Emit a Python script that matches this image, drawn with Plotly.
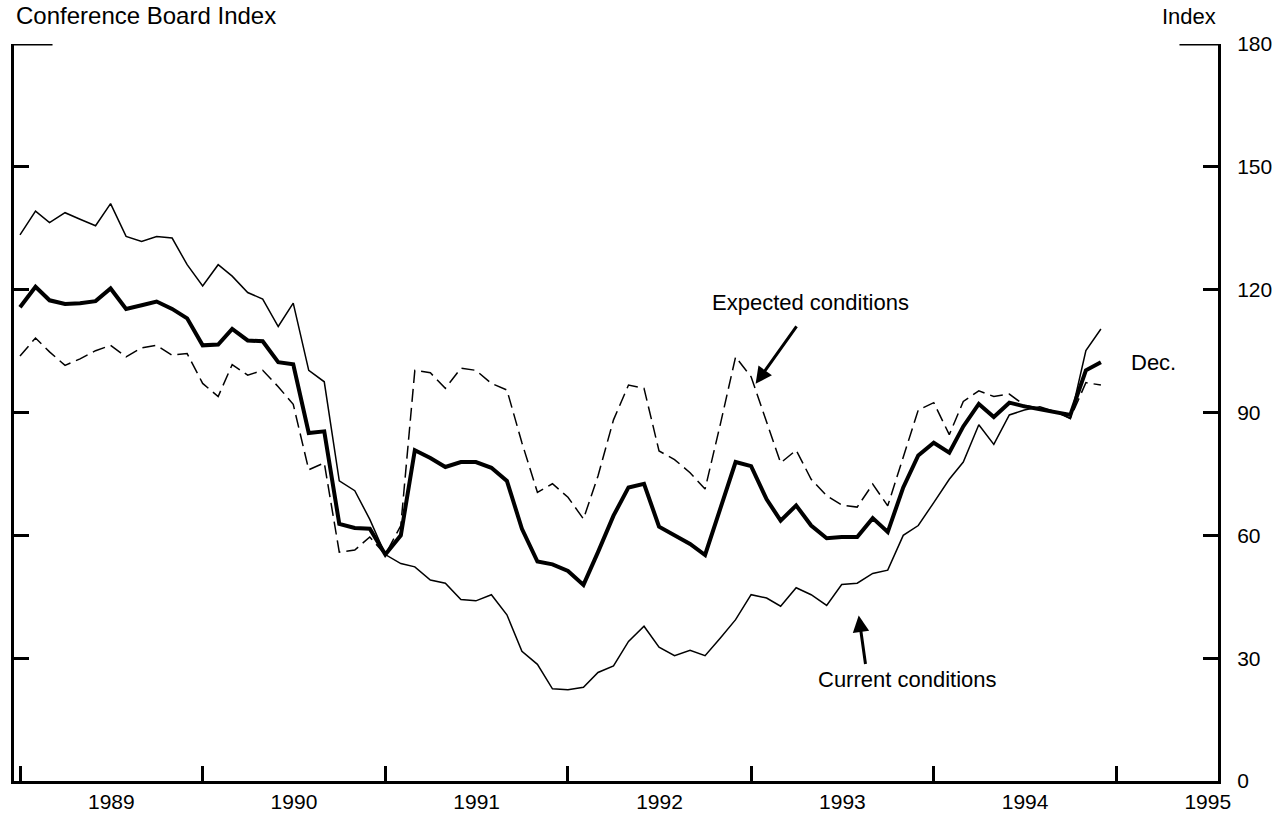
import pandas as pd
import plotly.graph_objects as go

# Conference Board consumer confidence, monthly Jan 1989 - Dec 1994 (1985 = 100)
months = pd.date_range("1989-01-01", periods=72, freq="MS")

composite = [
    115.7, 120.7, 117.4, 116.5, 116.7, 117.2, 120.3, 115.3, 116.2, 117.1, 115.3, 113.0,
    106.4, 106.6, 110.4, 107.6, 107.4, 102.3, 101.8, 85.0, 85.4, 62.8, 61.8, 61.6,
    55.3, 60.0, 80.8, 78.9, 76.7, 77.9, 77.9, 76.5, 73.3, 61.6, 53.6, 52.9,
    51.3, 47.9, 55.9, 64.8, 71.7, 72.6, 62.1, 60.0, 57.9, 55.2, 66.5, 77.9,
    76.9, 68.8, 63.6, 67.3, 62.4, 59.3, 59.6, 59.6, 64.2, 60.8, 71.7, 79.5,
    82.6, 80.2, 86.6, 92.1, 88.9, 92.4, 91.5, 90.8, 90.2, 89.4, 100.3, 102.3,
]
expected = [
    103.8, 108.2, 104.8, 101.5, 103.1, 105.1, 106.4, 103.6, 105.8, 106.4, 104.0, 104.4,
    97.1, 93.9, 101.7, 99.1, 100.3, 96.3, 92.0, 76.0, 77.7, 55.9, 56.4, 59.6,
    55.3, 62.4, 100.3, 99.7, 95.9, 100.8, 100.3, 97.1, 95.5, 82.6, 70.5, 72.6,
    69.3, 64.0, 74.5, 88.2, 96.7, 95.9, 80.6, 78.5, 75.3, 71.3, 87.4, 103.6,
    98.7, 87.4, 77.7, 80.8, 73.7, 69.7, 67.4, 66.9, 72.5, 67.2, 79.4, 90.6,
    92.4, 84.6, 92.7, 95.3, 93.9, 94.5, 91.8, 91.0, 90.2, 88.6, 97.3, 96.7,
]
current = [
    133.4, 139.2, 136.4, 138.8, 137.2, 135.6, 141.0, 133.0, 131.8, 133.0, 132.6, 126.1,
    120.9, 126.1, 123.3, 119.3, 117.7, 111.0, 116.7, 100.3, 97.5, 73.3, 70.9, 63.9,
    55.3, 53.1, 52.3, 49.1, 48.3, 44.3, 44.0, 45.5, 40.6, 31.7, 28.5, 22.5,
    22.3, 22.9, 26.5, 28.1, 34.1, 37.8, 32.7, 30.6, 31.9, 30.6, 35.0, 39.4,
    45.5, 44.7, 42.7, 47.2, 45.5, 42.9, 48.0, 48.3, 50.7, 51.5, 60.0, 62.4,
    68.0, 73.7, 77.9, 87.0, 82.2, 89.4, 90.6, 91.4, 90.2, 88.5, 105.1, 110.4,
]
y_ticks = [0, 30, 60, 90, 120, 150, 180]

FONT = "Liberation Sans, Arial, Helvetica, sans-serif"
INK = "#000000"

fig = go.Figure()
fig.add_trace(go.Scatter(x=months, y=current, mode="lines", name="Current conditions",
                         line=dict(color=INK, width=1.5)))
fig.add_trace(go.Scatter(x=months, y=expected, mode="lines", name="Expected conditions",
                         line=dict(color=INK, width=1.5, dash="13px,6px")))
fig.add_trace(go.Scatter(x=months, y=composite, mode="lines", name="Composite",
                         line=dict(color=INK, width=4)))
# invisible trace so the right axis renders
fig.add_trace(go.Scatter(x=months[:1], y=[0], yaxis="y2", mode="markers",
                         marker=dict(opacity=0), hoverinfo="skip"))

fig.update_layout(
    width=1285, height=825,
    paper_bgcolor="white", plot_bgcolor="white",
    showlegend=False,
    margin=dict(l=14, r=67, t=44, b=37),
    font=dict(family=FONT, size=21, color=INK),
    xaxis=dict(
        type="date", range=["1988-12-20", "1995-07-23"],
        tick0="1989-01-01", dtick="M12", tickformat="%Y", ticklabelmode="period",
        ticks="inside", ticklen=15, tickwidth=3, tickcolor=INK,
        showline=True, linewidth=3, linecolor=INK,
        showgrid=False, zeroline=False,
        tickfont=dict(size=21),
    ),
    yaxis=dict(
        range=[0, 180], tickvals=y_ticks[1:-1], showticklabels=False,
        ticks="inside", ticklen=15, tickwidth=3, tickcolor=INK,
        showline=True, linewidth=3, linecolor=INK,
        showgrid=False, zeroline=False,
    ),
    yaxis2=dict(
        range=[0, 180], tickvals=y_ticks, overlaying="y", side="right",
        ticks="inside", ticklen=15, tickwidth=3, tickcolor=INK,
        showline=True, linewidth=3, linecolor=INK,
        showgrid=False, zeroline=False, ticklabelstandoff=12,
        tickfont=dict(size=21),
    ),
)

# long ticks at the top of both axes
for x0, x1 in [(0, 0.032), (0.968, 1)]:
    fig.add_shape(type="line", xref="paper", yref="y", x0=x0, x1=x1, y0=180, y1=180,
                  line=dict(color=INK, width=3))

fig.add_annotation(text="Conference Board Index", xref="paper", yref="paper",
                   x=0, y=1.0591, xanchor="left", yanchor="top", showarrow=False,
                   font=dict(size=24))
fig.add_annotation(text="Index", xref="paper", yref="paper", x=1, y=1.0175,
                   xanchor="right", yanchor="bottom", showarrow=False, font=dict(size=22))

fig.add_annotation(text="Expected conditions", x="1993-01-10", y=97, showarrow=False,
                   xshift=55, yshift=81, font=dict(size=22))
fig.add_annotation(text="", x="1993-01-10", y=97, ax=42, ay=-59, showarrow=True,
                   arrowhead=2, arrowsize=1.1, arrowwidth=3, arrowcolor=INK)
fig.add_annotation(text="Current conditions", x="1993-08-04", y=40.4, showarrow=False,
                   xshift=49, yshift=-64, font=dict(size=22))
fig.add_annotation(text="", x="1993-08-04", y=40.4, ax=7, ay=50, showarrow=True,
                   arrowhead=2, arrowsize=1.1, arrowwidth=3, arrowcolor=INK)
fig.add_annotation(text="Dec.", x=months[-1], y=composite[-1], xanchor="left",
                   xshift=28, showarrow=False, font=dict(size=22))

fig.write_html("out.html", config={"displayModeBar": False},
               post_script="document.body.style.margin='0px';")
